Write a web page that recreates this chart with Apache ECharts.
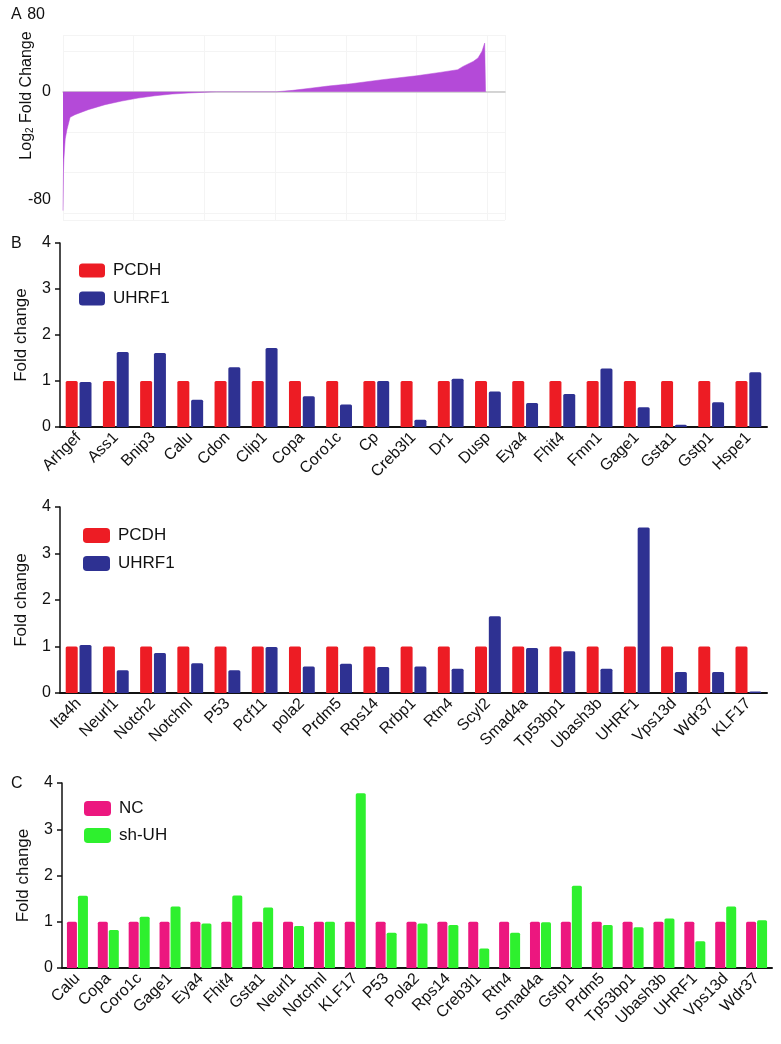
<!DOCTYPE html>
<html><head><meta charset="utf-8">
<script src="https://cdn.jsdelivr.net/npm/echarts@6/dist/echarts.min.js"></script>
<style>html,body{margin:0;padding:0;background:#fff}#c{width:781px;height:1044px}</style>
</head><body><div id="c"></div>
<script>
// Panel A: ranked log2 fold change curve (rank position, value)
const aRank  = [0, 1, 2, 5, 9, 16, 27, 57, 95, 133, 170, 208, 247, 283, 321, 348, 484, 520, 560, 600, 652, 722, 800, 853, 893, 905, 928, 939, 948, 954, 955, 956];
const aValue = [-88, -60, -50, -35, -28, -19, -17, -13.3, -9.6, -6.9, -4.7, -3, -1.7, -1, -0.4, 0, 0, 1, 2.6, 4.2, 5.9, 8.9, 11.8, 14.3, 16.3, 18.7, 22.4, 25, 30, 36, 36, 0];
const aTicks = [80, 0, -80];

// Panel B (upper)
const b1Genes = ['Arhgef','Ass1','Bnip3','Calu','Cdon','Clip1','Copa','Coro1c','Cp','Creb3l1','Dr1','Dusp','Eya4','Fhit4','Fmn1','Gage1','Gsta1','Gstp1','Hspe1'];
const b1PCDH  = [1,1,1,1,1,1,1,1,1,1,1,1,1,1,1,1,1,1,1];
const b1UHRF1 = [0.98,1.63,1.61,0.59,1.30,1.72,0.67,0.49,1.0,0.16,1.05,0.77,0.52,0.72,1.27,0.43,0.05,0.54,1.19];

// Panel B (lower)
const b2Genes = ['Ita4h','Neurl1','Notch2','Notchnl','P53','Pcf11','pola2','Prdm5','Rps14','Rrbp1','Rtn4','Scyl2','Smad4a','Tp53bp1','Ubash3b','UHRF1','Vps13d','Wdr37','KLF17'];
const b2PCDH  = [1,1,1,1,1,1,1,1,1,1,1,1,1,1,1,1,1,1,1];
const b2UHRF1 = [1.03,0.49,0.86,0.64,0.49,0.99,0.57,0.63,0.56,0.57,0.52,1.65,0.97,0.90,0.52,3.56,0.45,0.45,0.03];

// Panel C
const cGenes = ['Calu','Copa','Coro1c','Gage1','Eya4','Fhit4','Gsta1','Neurl1','Notchnl','KLF17','P53','Pola2','Rps14','Creb3l1','Rtn4','Smad4a','Gstp1','Prdm5','Tp53bp1','Ubash3b','UHRF1','Vps13d','Wdr37'];
const cNC   = [1,1,1,1,1,1,1,1,1,1,1,1,1,1,1,1,1,1,1,1,1,1,1];
const cShUH = [1.56,0.82,1.11,1.33,0.96,1.57,1.31,0.91,1.0,3.78,0.76,0.96,0.93,0.42,0.76,0.99,1.78,0.93,0.88,1.07,0.58,1.33,1.03];

const FONT = 'Liberation Sans, Arial, sans-serif';
const RED = '#ED1C24', BLUE = '#2E3192', PINK = '#EC177F', GREEN = '#2EF02E', PURPLE = '#B44AD8';

function catX(idx, genes, fs) {
  return {type:'category', gridIndex: idx, data: genes,
    axisLine:{lineStyle:{color:'#111', width:2}},
    axisTick:{alignWithLabel:true, length:5, lineStyle:{color:'#111', width:1.5}},
    axisLabel:{rotate:45, fontSize: fs, color:'#111', fontFamily: FONT, margin: 8, interval: 0}};
}
function valY(idx) {
  return {type:'value', gridIndex: idx, min:0, max:4, interval:1,
    name:'Fold change', nameLocation:'middle', nameGap: 30, nameMoveOverlap:false,
    nameTextStyle:{fontSize:17, color:'#111', fontFamily: FONT},
    axisLine:{show:true, lineStyle:{color:'#111', width:1.5}},
    axisTick:{show:true, length:5, lineStyle:{color:'#111', width:1.5}},
    axisLabel:{fontSize:16, color:'#111', fontFamily: FONT, margin: 9},
    splitLine:{show:false}};
}
function bar(name, data, color, xi, bw, gap) {
  return {type:'bar', name, data, xAxisIndex: xi, yAxisIndex: xi, barWidth: bw, barGap: gap,
    itemStyle:{color, borderRadius:[1.5,1.5,0,0]}, silent:true};
}
function legend(left, top, w, h, gap, names) {
  return {left, top, orient:'vertical', itemWidth:w, itemHeight:h, itemGap:gap, data:names,
    textStyle:{fontSize:17, color:'#111', fontFamily:FONT, padding:[0,0,0,3]}, selectedMode:false, icon:'roundRect'};
}

const chart = echarts.init(document.getElementById('c'), null, {renderer:'canvas'});
chart.setOption({
  animation:false,
  backgroundColor:'#fff',
  grid:[
    {left:63, right:276, top:35, bottom:824, outerBoundsMode:'none', containLabel:false},
    {left:60, right:14, top:243, bottom:617, outerBoundsMode:'none', containLabel:false},
    {left:60, right:14, top:507, bottom:351, outerBoundsMode:'none', containLabel:false},
    {left:62, right:9, top:783, bottom:76, outerBoundsMode:'none', containLabel:false}
  ],
  xAxis:[
    {type:'value', gridIndex:0, min:0, max:1000, interval:160,
      axisLine:{onZero:true, lineStyle:{color:'#c8c8c8', width:1.5}},
      axisTick:{show:false}, axisLabel:{show:false},
      splitLine:{show:true, lineStyle:{color:'#f4f4f4'}}},
    catX(1, b1Genes, 16),
    catX(2, b2Genes, 16),
    catX(3, cGenes, 16)
  ],
  yAxis:[
    {type:'value', gridIndex:0, min:-95, max:42,
      name:'{n|Log}{s|2}{n| Fold Change}', nameLocation:'middle', nameGap: 28, nameMoveOverlap:false,
      nameTextStyle:{padding:[0,0,0,64], rich:{n:{fontSize:16, color:'#111', fontFamily:FONT}, s:{fontSize:10, color:'#111', fontFamily:FONT, verticalAlign:'bottom'}}},
      axisLine:{show:false}, axisTick:{show:false},
      axisLabel:{customValues:[aTicks[1], aTicks[2]], fontSize:16, color:'#111', fontFamily:FONT, margin:12},
      splitLine:{show:true, lineStyle:{color:'#f4f4f4'}}},
    valY(1), valY(2), valY(3)
  ],
  legend:[
    legend(74, 257, 26, 14, 11, ['PCDH','UHRF1']),
    legend(78, 522, 27, 15, 11, ['PCDH','UHRF1']),
    legend(79, 795, 27, 15, 10, ['NC','sh-UH'])
  ],
  graphic:[
    {type:'text', left:11, top:7, style:{text:'A', font:'16px '+FONT, fill:'#111'}},
    {type:'text', x:45, y:15, style:{text:String(aTicks[0]), font:'16px '+FONT, fill:'#111', textAlign:'right', textVerticalAlign:'middle'}},
    {type:'text', left:11, top:236, style:{text:'B', font:'16px '+FONT, fill:'#111'}},
    {type:'text', left:11, top:776, style:{text:'C', font:'16px '+FONT, fill:'#111'}}
  ],
  series:[
    {type:'line', xAxisIndex:0, yAxisIndex:0, data: aRank.map((r,i)=>[r, aValue[i]]),
      showSymbol:false, lineStyle:{width:0.5, color:PURPLE}, areaStyle:{color:PURPLE, opacity:1}, silent:true},
    bar('PCDH', b1PCDH, RED, 1, 12, '15%'),
    bar('UHRF1', b1UHRF1, BLUE, 1, 12, '15%'),
    bar('PCDH', b2PCDH, RED, 2, 12, '15%'),
    bar('UHRF1', b2UHRF1, BLUE, 2, 12, '15%'),
    bar('NC', cNC, PINK, 3, 10, '10%'),
    bar('sh-UH', cShUH, GREEN, 3, 10, '10%')
  ]
});
</script></body></html>
